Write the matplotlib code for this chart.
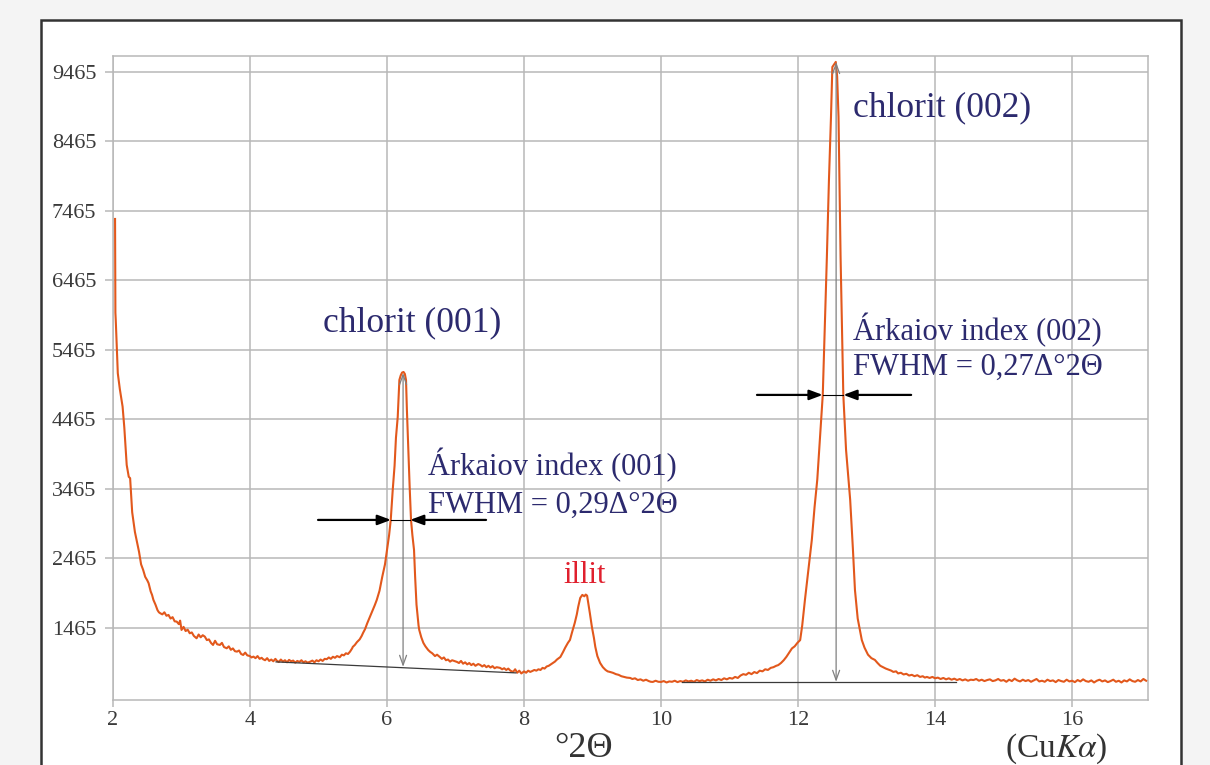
import matplotlib
matplotlib.use("Agg")
import matplotlib.pyplot as plt
from matplotlib.patches import Rectangle

# ---------------- data ----------------
two_theta = [
    2.03, 2.035, 2.04, 2.07, 2.10, 2.14, 2.165, 2.20, 2.23, 2.25, 2.28, 2.32, 2.35, 2.38, 2.41, 2.44,
    2.47, 2.50, 2.52, 2.55, 2.57, 2.59, 2.62, 2.65, 2.67, 2.69, 2.72, 2.75, 2.78, 2.81, 2.84, 2.87,
    2.90, 2.93, 2.96, 2.98, 3.00, 3.03, 3.06, 3.09, 3.12, 3.15, 3.18, 3.22, 3.25, 3.28, 3.31, 3.34,
    3.37, 3.40, 3.43, 3.46, 3.49, 3.52, 3.56, 3.59, 3.62, 3.66, 3.69, 3.72, 3.75, 3.78, 3.81, 3.84,
    3.87, 3.90, 3.93, 3.96, 4.00, 4.02, 4.05, 4.08, 4.11, 4.14, 4.17, 4.19, 4.22, 4.25, 4.28, 4.31,
    4.34, 4.37, 4.39, 4.42, 4.45, 4.48, 4.51, 4.54, 4.57, 4.60, 4.63, 4.66, 4.69, 4.72, 4.75, 4.78,
    4.81, 4.84, 4.88, 4.91, 4.94, 4.97, 5.00, 5.03, 5.06, 5.09, 5.12, 5.15, 5.18, 5.21, 5.24, 5.27,
    5.31, 5.34, 5.37, 5.40, 5.43, 5.46, 5.49, 5.50, 5.53, 5.56, 5.60, 5.63, 5.65, 5.68, 5.71, 5.75,
    5.79, 5.82, 5.85, 5.89, 5.93, 5.97, 6.00, 6.03, 6.054, 6.083, 6.11, 6.13, 6.156, 6.17, 6.18, 6.20,
    6.22, 6.241, 6.26, 6.277, 6.29, 6.311, 6.33, 6.35, 6.37, 6.394, 6.41, 6.43, 6.46, 6.47, 6.50, 6.53,
    6.56, 6.60, 6.63, 6.66, 6.70, 6.73, 6.77, 6.80, 6.83, 6.86, 6.89, 6.92, 6.95, 6.98, 7.02, 7.05,
    7.08, 7.11, 7.14, 7.17, 7.20, 7.23, 7.26, 7.29, 7.33, 7.36, 7.39, 7.42, 7.45, 7.48, 7.51, 7.54,
    7.57, 7.60, 7.65, 7.68, 7.71, 7.74, 7.77, 7.80, 7.84, 7.87, 7.90, 7.93, 7.96, 8.00, 8.03, 8.06,
    8.09, 8.12, 8.15, 8.18, 8.21, 8.24, 8.27, 8.30, 8.33, 8.36, 8.39, 8.42, 8.45, 8.48, 8.53, 8.57,
    8.60, 8.64, 8.67, 8.70, 8.74, 8.77, 8.79, 8.82, 8.85, 8.88, 8.90, 8.92, 8.93, 8.96, 8.99, 9.02,
    9.04, 9.07, 9.11, 9.15, 9.19, 9.22, 9.26, 9.30, 9.34, 9.38, 9.42, 9.46, 9.50, 9.55, 9.58, 9.62,
    9.66, 9.70, 9.74, 9.78, 9.82, 9.85, 9.88, 9.92, 9.96, 10.00, 10.04, 10.08, 10.12, 10.16, 10.20, 10.24,
    10.28, 10.32, 10.36, 10.40, 10.44, 10.48, 10.52, 10.56, 10.60, 10.64, 10.68, 10.72, 10.76, 10.80, 10.84, 10.88,
    10.92, 10.96, 11.00, 11.04, 11.08, 11.12, 11.16, 11.20, 11.24, 11.28, 11.32, 11.36, 11.40, 11.44, 11.48, 11.52,
    11.56, 11.60, 11.64, 11.68, 11.71, 11.75, 11.79, 11.83, 11.87, 11.91, 11.95, 11.99, 12.03, 12.06, 12.10, 12.15,
    12.20, 12.24, 12.28, 12.32, 12.36, 12.39, 12.42, 12.45, 12.48, 12.50, 12.55, 12.57, 12.59, 12.62, 12.66, 12.70,
    12.76, 12.80, 12.83, 12.87, 12.93, 12.97, 13.02, 13.07, 13.12, 13.16, 13.20, 13.24, 13.28, 13.32, 13.36, 13.39,
    13.43, 13.46, 13.50, 13.54, 13.58, 13.62, 13.66, 13.70, 13.74, 13.78, 13.82, 13.85, 13.88, 13.92, 13.96, 14.00,
    14.04, 14.08, 14.12, 14.16, 14.20, 14.24, 14.28, 14.32, 14.36, 14.40, 14.44, 14.48, 14.52, 14.56, 14.60, 14.64,
    14.68, 14.72, 14.76, 14.80, 14.84, 14.88, 14.92, 14.96, 15.00, 15.04, 15.08, 15.12, 15.16, 15.20, 15.24, 15.28,
    15.32, 15.36, 15.40, 15.44, 15.48, 15.52, 15.56, 15.60, 15.64, 15.68, 15.72, 15.76, 15.80, 15.84, 15.88, 15.92,
    15.96, 16.00, 16.04, 16.08, 16.12, 16.16, 16.20, 16.24, 16.28, 16.32, 16.36, 16.40, 16.44, 16.48, 16.52, 16.56,
    16.60, 16.64, 16.68, 16.72, 16.76, 16.80, 16.84, 16.88, 16.92, 16.96, 17.00, 17.04, 17.08,
]
intensity = [
    7350, 6000, 5900, 5130, 4900, 4650, 4350, 3810, 3640, 3620, 3130, 2845, 2700, 2560, 2380, 2300,
    2200, 2150, 2108, 1990, 1940, 1868, 1800, 1720, 1690, 1676, 1660, 1690, 1640, 1652, 1600, 1620,
    1560, 1556, 1520, 1570, 1436, 1480, 1420, 1440, 1388, 1400, 1350, 1316, 1370, 1330, 1360, 1340,
    1290, 1300, 1250, 1220, 1280, 1230, 1220, 1250, 1190, 1172, 1200, 1150, 1170, 1130, 1124, 1140,
    1090, 1076, 1110, 1070, 1060, 1040, 1052, 1030, 1060, 1020, 1035, 1015, 1000, 1030, 990, 1010,
    985, 1020, 995, 975, 1010, 980, 1000, 970, 1005, 985, 995, 965, 990, 975, 1000, 970,
    985, 965, 980, 995, 970, 1000, 985, 1010, 990, 1020, 1015, 1040, 1020, 1050, 1035, 1060,
    1043, 1080, 1070, 1100, 1090, 1124, 1170, 1192, 1220, 1260, 1300, 1350, 1393, 1450, 1530, 1624,
    1720, 1790, 1868, 2000, 2200, 2380, 2587, 2800, 3019, 3451, 3800, 4200, 4501, 4800, 5033, 5100,
    5140, 5148, 5120, 5033, 4600, 4026, 3500, 3019, 2800, 2587, 2200, 1800, 1500, 1436, 1330, 1250,
    1200, 1148, 1120, 1100, 1060, 1080, 1047, 1020, 1040, 1000, 1010, 980, 1000, 990, 976, 960,
    990, 950, 970, 940, 960, 930, 950, 920, 945, 933, 910, 930, 900, 920, 895, 915,
    885, 900, 890, 870, 885, 860, 880, 850, 832, 870, 820, 850, 810, 840, 820, 850,
    832, 845, 860, 850, 870, 860, 890, 880, 910, 920, 940, 961, 980, 1010, 1047, 1120,
    1180, 1250, 1292, 1400, 1537, 1660, 1767, 1897, 1940, 1920, 1945, 1930, 1868, 1680, 1480, 1320,
    1192, 1060, 961, 900, 860, 840, 830, 818, 800, 790, 770, 760, 750, 745, 730, 740,
    715, 725, 705, 720, 700, 690, 688, 705, 690, 688, 700, 680, 695, 690, 705, 685,
    700, 690, 710, 695, 705, 690, 715, 700, 710, 695, 720, 705, 725, 710, 730, 715,
    740, 725, 745, 735, 760, 745, 780, 800, 790, 820, 800, 830, 815, 850, 840, 870,
    860, 890, 900, 920, 930, 960, 1000, 1050, 1110, 1170, 1200, 1250, 1290, 1500, 1870, 2300,
    2730, 3200, 3600, 4200, 4818, 5800, 6803, 7900, 8818, 9537, 9610, 9400, 8818, 6803, 4818, 4026,
    3310, 2600, 2010, 1600, 1290, 1180, 1080, 1030, 1005, 960, 920, 900, 880, 865, 850, 832,
    840, 810, 820, 795, 805, 780, 790, 770, 785, 760, 770, 750, 760, 745, 760, 740,
    750, 730, 745, 725, 740, 720, 735, 715, 730, 710, 725, 705, 720, 715, 730, 705,
    720, 700, 715, 725, 700, 710, 730, 705, 715, 690, 720, 700, 735, 710, 695, 720,
    700, 715, 690, 710, 730, 695, 705, 690, 720, 700, 710, 685, 715, 700, 690, 720,
    695, 705, 685, 715, 695, 725, 700, 690, 710, 680, 705, 720, 695, 710, 685, 700,
    720, 690, 705, 680, 710, 695, 725, 700, 690, 715, 695, 730, 705,
]

x_ticks = [2, 4, 6, 8, 10, 12, 14, 16]
y_ticks = [1465, 2465, 3465, 4465, 5465, 6465, 7465, 8465, 9465]

# annotation geometry (data coordinates)
peak1 = dict(x=6.234, top=5134, bottom=904, fw_left=6.058, fw_right=6.336, fw_y=3019,
             arr_l=4.993, arr_r=7.445, base=((4.38, 976), (7.88, 818)))
peak2 = dict(x=12.555, top=9609, bottom=688, fw_left=12.36, fw_right=12.66, fw_y=4818,
             arr_l=11.40, arr_r=13.65, base=((10.30, 688), (14.30, 688)))

# ---------------- figure ----------------
W, H = 1210, 765
fig = plt.figure(figsize=(W / 100, H / 100), dpi=100, facecolor="#f4f4f4")
serif = ["Liberation Serif", "DejaVu Serif"]
plt.rcParams["font.family"] = serif
plt.rcParams["mathtext.fontset"] = "stix"

frame = Rectangle((40.5 / W, -0.05), 1140.5 / W, (765 - 20) / H + 0.05, transform=fig.transFigure,
                  facecolor="white", edgecolor="#333333", linewidth=1.8, zorder=-5)
fig.patches.append(frame)

ax = fig.add_axes([113 / W, (H - 699.5) / H, (1147.5 - 113) / W, (699.5 - 56) / H])
ax.set_zorder(3)
ax.set_facecolor("white")

ax.plot(two_theta, intensity, color="#e2581c", lw=1.5, zorder=3)

ax.set_xlim(2, 17.1)
ax.set_ylim(435, 9695)
ax.set_xticks(x_ticks)
ax.set_yticks(y_ticks)
ax.grid(True, color="#b8b8b8", lw=1.1, zorder=0)
ax.set_axisbelow(True)
for s in ax.spines.values():
    s.set_color("#b8b8b8")
    s.set_linewidth(1.1)
ax.tick_params(axis="y", direction="out", length=6, width=1.1, color="#b8b8b8",
               labelsize=16, labelcolor="#3a3a3a", pad=6)
ax.tick_params(axis="x", direction="out", length=5, width=1.1, color="#b8b8b8",
               labelsize=16, labelcolor="#3a3a3a", pad=3)

navy = "#2c2a6e"

for p in (peak1, peak2):
    (bx0, by0), (bx1, by1) = p["base"]
    ax.plot([bx0, bx1], [by0, by1], color="#3a3a3a", lw=0.9, zorder=4)
    ax.annotate("", xy=(p["x"], p["bottom"]), xytext=(p["x"], p["top"]),
                arrowprops=dict(arrowstyle="<->,head_length=0.7,head_width=0.25",
                                color="#808080", lw=0.9, shrinkA=0, shrinkB=0), zorder=4)
    ax.annotate("", xy=(p["fw_left"], p["fw_y"]), xytext=(p["arr_l"], p["fw_y"]),
                arrowprops=dict(arrowstyle="-|>,head_length=0.8,head_width=0.3",
                                color="black", lw=1.6, shrinkA=0, shrinkB=0), zorder=5)
    ax.annotate("", xy=(p["fw_right"], p["fw_y"]), xytext=(p["arr_r"], p["fw_y"]),
                arrowprops=dict(arrowstyle="-|>,head_length=0.8,head_width=0.3",
                                color="black", lw=1.6, shrinkA=0, shrinkB=0), zorder=5)
    ax.plot([p["fw_left"], p["fw_right"]], [p["fw_y"], p["fw_y"]], color="black", lw=0.8, zorder=5)

ax.text(5.07, 5738, "chlorit (001)", color=navy, fontsize=25.5, ha="left", va="baseline")
ax.text(12.80, 8822, "chlorit (002)", color=navy, fontsize=25.5, ha="left", va="baseline")
ax.text(6.60, 3667, "Árkaiov index (001)", color=navy, fontsize=22, ha="left", va="baseline")
ax.text(6.60, 3120, "FWHM = 0,29Δ°2Θ", color=navy, fontsize=22, ha="left", va="baseline")
ax.text(12.80, 5609, "Árkaiov index (002)", color=navy, fontsize=22, ha="left", va="baseline")
ax.text(12.80, 5105, "FWHM = 0,27Δ°2Θ", color=navy, fontsize=22, ha="left", va="baseline")
ax.text(8.89, 2108, "illit", color="#e0202e", fontsize=22, ha="center", va="baseline")

fig.text(584 / W, (H - 757) / H, "°2Θ", color="#333333", fontsize=26, ha="center", va="baseline")
fig.text(1056 / W, (H - 757) / H, r"(Cu$\mathit{K}\alpha$)", color="#333333", fontsize=24,
         ha="center", va="baseline")

fig.savefig("out.png", dpi=100, facecolor=fig.get_facecolor())
